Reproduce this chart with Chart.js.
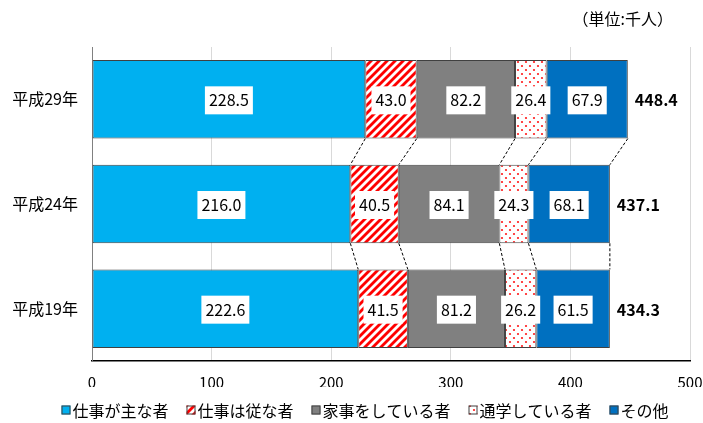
<!DOCTYPE html>
<html lang="ja">
<head>
<meta charset="utf-8">
<title>就業状態別人数</title>
<script src="https://cdn.jsdelivr.net/npm/chart.js@4"></script>
<style>
  body { margin: 0; background: #fff; }
  canvas { display: block; }
</style>
</head>
<body>
<canvas id="chart" width="703" height="423"></canvas>
<script>
const categories = ["平成29年", "平成24年", "平成19年"];
const seriesNames = ["仕事が主な者", "仕事は従な者", "家事をしている者", "通学している者", "その他"];
const mainWork = [228.5, 216.0, 222.6];
const sideWork = [43.0, 40.5, 41.5];
const houseWork = [82.2, 84.1, 81.2];
const school = [26.4, 24.3, 26.2];
const others = [67.9, 68.1, 61.5];
const totals = [448.4, 437.1, 434.3];
const xMax = 500;
const xStep = 100;
const unitText = "（単位:千人）";

const FONT = '"Noto Sans CJK JP", "Noto Sans", sans-serif';
Chart.defaults.font.family = FONT;
Chart.defaults.color = "#000";

// red diagonal stripes
function stripePattern() {
  const s = 8;
  const c = document.createElement("canvas");
  c.width = s;
  c.height = s;
  const g = c.getContext("2d");
  g.fillStyle = "#fff";
  g.fillRect(0, 0, s, s);
  g.strokeStyle = "#ff0000";
  g.lineWidth = 2.8;
  [[-s, s, s, -s], [0, s, s, 0], [0, 2 * s, 2 * s, 0]].forEach(function (l) {
    g.beginPath();
    g.moveTo(l[0], l[1]);
    g.lineTo(l[2], l[3]);
    g.stroke();
  });
  return g.createPattern(c, "repeat");
}

// red dots on white, staggered rows
function dotPattern() {
  const c = document.createElement("canvas");
  c.width = 8;
  c.height = 8;
  const g = c.getContext("2d");
  g.fillStyle = "#fff";
  g.fillRect(0, 0, 8, 8);
  g.fillStyle = "#ff1a1a";
  [[2, 2], [6, 6]].forEach(function (p) {
    g.beginPath();
    g.arc(p[0], p[1], 1.1, 0, Math.PI * 2);
    g.fill();
  });
  return g.createPattern(c, "repeat");
}

const fills = ["#00b0f0", stripePattern(), "#808080", dotPattern(), "#0070c0"];
const values = [mainWork, sideWork, houseWork, school, others];

const datasets = values.map(function (v, i) {
  return {
    label: seriesNames[i],
    data: v,
    backgroundColor: fills[i],
    borderColor: "#404040",
    borderWidth: 1,
    borderSkipped: false,
    barPercentage: 0.75,
    categoryPercentage: 1,
  };
});

// dashed lines joining segment edges of neighbouring bars
const connectors = {
  id: "connectors",
  afterDatasetsDraw(chart) {
    const c = chart.ctx;
    const last = chart.data.datasets.length;
    c.save();
    c.strokeStyle = "#000";
    c.lineWidth = 1;
    c.setLineDash([3, 2]);
    for (let i = 0; i < categories.length - 1; i++) {
      for (let d = 0; d < last; d++) {
        const a = chart.getDatasetMeta(d).data[i];
        const b = chart.getDatasetMeta(d).data[i + 1];
        c.beginPath();
        c.moveTo(a.x, a.y + a.height / 2);
        c.lineTo(b.x, b.y - b.height / 2);
        c.stroke();
      }
    }
    c.restore();
  },
};

// value boxes, totals, unit note and legend
const labels = {
  id: "labels",
  afterDraw(chart) {
    const c = chart.ctx;
    c.save();
    c.font = "16px " + FONT;
    c.textAlign = "center";
    c.textBaseline = "middle";
    chart.data.datasets.forEach(function (ds, d) {
      chart.getDatasetMeta(d).data.forEach(function (el, i) {
        const txt = ds.data[i].toFixed(1);
        const w = c.measureText(txt).width + 8;
        const h = 28;
        const cx = (el.x + el.base) / 2;
        c.fillStyle = "#fff";
        c.fillRect(cx - w / 2, el.y - h / 2 + 1, w, h);
        c.fillStyle = "#000";
        c.fillText(txt, cx, el.y + 1);
      });
    });

    const lastMeta = chart.getDatasetMeta(chart.data.datasets.length - 1);
    c.font = "bold 16px " + FONT;
    c.textAlign = "left";
    lastMeta.data.forEach(function (el, i) {
      c.fillText(totals[i].toFixed(1), el.x + 7, el.y + 1);
    });

    c.font = "16px " + FONT;
    c.textAlign = "right";
    c.fillText(unitText, 673, 19);

    // legend
    c.font = "16px " + FONT;
    c.textAlign = "left";
    const gap = 18;
    const box = 9;
    const widths = seriesNames.map(function (n) {
      return box + 2 + c.measureText(n).width;
    });
    const total = widths.reduce(function (s, w) { return s + w; }, 0) + gap * (widths.length - 1);
    let x = 365 - total / 2;
    const y = 410;
    seriesNames.forEach(function (n, i) {
      c.fillStyle = fills[i];
      c.fillRect(x, y - box / 2, box, box);
      c.strokeStyle = "#404040";
      c.lineWidth = 1;
      c.strokeRect(x + 0.5, y - box / 2 + 0.5, box - 1, box - 1);
      c.fillStyle = "#000";
      c.fillText(n, x + box + 2, y + 1);
      x += widths[i] + gap;
    });
    c.restore();
  },
};

new Chart(document.getElementById("chart"), {
  type: "bar",
  data: {
    labels: categories,
    datasets: datasets,
  },
  options: {
    indexAxis: "y",
    responsive: false,
    animation: false,
    layout: {
      padding: { top: 47, right: 13, bottom: 36, left: 0 },
    },
    plugins: {
      legend: { display: false },
      tooltip: { enabled: false },
    },
    scales: {
      x: {
        stacked: true,
        min: 0,
        max: xMax,
        ticks: {
          stepSize: xStep,
          padding: 12,
          font: { size: 15 },
          color: "#000",
        },
        grid: { color: "#d9d9d9", drawTicks: false },
        border: { color: "#000", width: 1.5 },
        afterFit(scale) {
          scale.height = 26;
          scale.paddingLeft = 0;
          scale.paddingRight = 0;
        },
      },
      y: {
        stacked: true,
        ticks: {
          padding: 14,
          font: { size: 16 },
          color: "#000",
        },
        grid: { display: false, drawTicks: false },
        border: { color: "#808080", width: 1 },
        afterFit(scale) {
          scale.width = 92;
        },
      },
    },
  },
  plugins: [connectors, labels],
});
</script>
</body>
</html>
